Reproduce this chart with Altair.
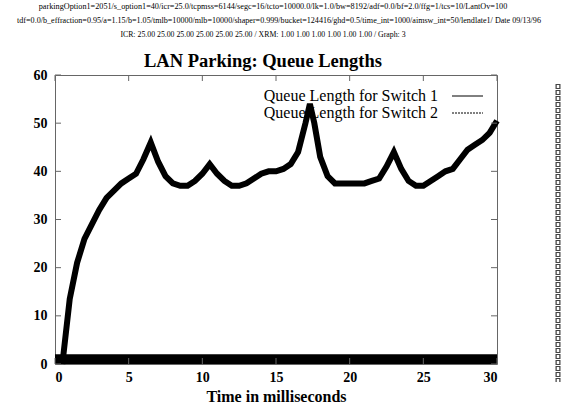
import altair as alt
import pandas as pd

# ---- data ----
time_s1 = [0.5, 1.0, 1.5, 2.0, 2.5, 3.0, 3.5, 4.0, 4.5, 5.0, 5.5, 6.0, 6.5, 7.0, 7.5,
           8.0, 8.5, 9.0, 9.5, 10.0, 10.5, 11.0, 11.5, 12.0, 12.5, 13.0, 13.5, 14.0,
           14.5, 15.0, 15.5, 16.0, 16.5, 17.0, 17.3, 17.6, 18.0, 18.5, 19.0, 19.5,
           20.0, 20.5, 21.0, 21.5, 22.0, 22.5, 23.0, 23.5, 24.0, 24.5, 25.0, 25.5,
           26.0, 26.5, 27.0, 27.5, 28.0, 28.5, 29.0, 29.5, 30.0]
queue_s1 = [0, 13.5, 21, 26, 29, 32, 34.5, 36, 37.5, 38.5, 39.5, 42.5, 46, 42, 39,
            37.5, 37, 37, 38, 39.5, 41.5, 39.5, 38, 37, 37, 37.5, 38.5, 39.5,
            40, 40, 40.5, 41.5, 44, 50, 54, 50, 43, 39, 37.5, 37.5,
            37.5, 37.5, 37.5, 38, 38.5, 41, 44, 40.5, 38, 37, 37, 38,
            39, 40, 40.5, 42.5, 44.5, 45.5, 46.5, 48, 50.5]

time_s2 = [0, 5, 10, 15, 20, 25, 30]
queue_s2 = [1, 1, 1, 1, 1, 1, 1]

x_ticks = [0, 5, 10, 15, 20, 25, 30]
y_ticks = [0, 10, 20, 30, 40, 50, 60]

header_lines = [
    "parkingOption1=2051/s_option1=40/icr=25.0/tcpmss=6144/segc=16/tcto=10000.0/lk=1.0/bw=8192/adf=0.0/bf=2.0/ffg=1/tcs=10/LantOv=100",
    "tdf=0.0/b_effraction=0.95/a=1.15/b=1.05/tmlb=10000/mlb=10000/shaper=0.999/bucket=124416/ghd=0.5/time_int=1000/aimsw_int=50/lendlate1/ Date 09/13/96",
    "ICR: 25.00 25.00 25.00 25.00 25.00 25.00 / XRM: 1.00 1.00 1.00 1.00 1.00 1.00 / Graph: 3",
]
title_text = "LAN Parking: Queue Lengths"
x_title = "Time in milliseconds"
legend_labels = ["Queue Length for Switch 1", "Queue Length for Switch 2"]

W, H = 442, 289
SERIF = "Liberation Serif"

df1 = pd.DataFrame({"t": time_s1, "q": queue_s1})
df2 = pd.DataFrame({"t": time_s2, "q": queue_s2})
xt = pd.DataFrame({"t": x_ticks})
yt = pd.DataFrame({"q": y_ticks})

xscale = alt.Scale(domain=[0, 30], nice=False, zero=False)
yscale = alt.Scale(domain=[0, 60], nice=False)

xaxis = alt.Axis(values=x_ticks, title=x_title, grid=False, ticks=False, domain=False,
                 labelFont=SERIF, labelFontWeight="bold", labelFontSize=14, labelColor="black",
                 labelPadding=6, titleFont=SERIF, titleFontWeight="bold", titleFontSize=16,
                 titleColor="black", titlePadding=4)
yaxis = alt.Axis(values=y_ticks, title=None, grid=False, ticks=False, domain=False,
                 labelFont=SERIF, labelFontWeight="bold", labelFontSize=14, labelColor="black",
                 labelPadding=8)

line1 = alt.Chart(df1).mark_line(color="black", strokeWidth=6, strokeJoin="miter").encode(
    x=alt.X("t:Q", scale=xscale, axis=xaxis),
    y=alt.Y("q:Q", scale=yscale, axis=yaxis),
)
line2 = alt.Chart(df2).mark_line(color="black", strokeWidth=10, clip=True).encode(
    x=alt.X("t:Q", scale=xscale),
    y=alt.Y("q:Q", scale=yscale),
)

tick_style = dict(color="#666", strokeWidth=1)
xt_bottom = alt.Chart(xt).mark_rule(**tick_style).encode(
    x=alt.X("t:Q", scale=xscale), y=alt.value(H), y2=alt.value(H - 6))
xt_top = alt.Chart(xt).mark_rule(**tick_style).encode(
    x=alt.X("t:Q", scale=xscale), y=alt.value(0), y2=alt.value(6))
yt_left = alt.Chart(yt).mark_rule(**tick_style).encode(
    y=alt.Y("q:Q", scale=yscale), x=alt.value(0), x2=alt.value(6))
yt_right = alt.Chart(yt).mark_rule(**tick_style).encode(
    y=alt.Y("q:Q", scale=yscale), x=alt.value(W), x2=alt.value(W - 6))


def text_layer(txt, x, y, size, weight="normal", align="center"):
    return alt.Chart(pd.DataFrame({"label": [txt]})).mark_text(
        font=SERIF, fontSize=size, fontWeight=weight, align=align,
        baseline="middle", color="black").encode(
        text="label:N", x=alt.value(x), y=alt.value(y))


headers = [
    text_layer(header_lines[0], 218, -68, 8.2),
    text_layer(header_lines[1], 224, -54, 8.1),
    text_layer(header_lines[2], 208, -40, 7.8),
]
title = text_layer(title_text, 208, -14, 18.5, "bold")

leg1 = text_layer(legend_labels[0], 383, 21, 16, align="right")
leg2 = text_layer(legend_labels[1], 383, 38, 16, align="right")
leg1_line = alt.Chart(pd.DataFrame({"a": [0]})).mark_rule(color="black", strokeWidth=1).encode(
    x=alt.value(397), x2=alt.value(428), y=alt.value(21))
leg2_line = alt.Chart(pd.DataFrame({"a": [0]})).mark_rule(
    color="black", strokeWidth=1, strokeDash=[2, 1]).encode(
    x=alt.value(397), x2=alt.value(428), y=alt.value(38))

stripe_outer = alt.Chart(pd.DataFrame({"a": [0]})).mark_rule(
    color="#444", strokeWidth=5, strokeDash=[5, 1]).encode(
    x=alt.value(503), y=alt.value(9), y2=alt.value(307))
stripe_inner = alt.Chart(pd.DataFrame({"a": [0]})).mark_rule(
    color="white", strokeWidth=2.5, strokeDash=[3, 3], strokeDashOffset=-1).encode(
    x=alt.value(503), y=alt.value(9), y2=alt.value(307))

chart = alt.layer(
    line2, line1, xt_bottom, xt_top, yt_left, yt_right,
    leg1, leg2, leg1_line, leg2_line, title, *headers, stripe_outer, stripe_inner,
).properties(
    width=W, height=H,
    autosize=alt.AutoSizeParams(type="none"),
    padding={"left": 55, "top": 75, "right": 64, "bottom": 46},
    background="white",
).configure_view(stroke="#666", strokeWidth=1)

chart.save("out.html", embed_options={"renderer": "svg", "actions": False})
